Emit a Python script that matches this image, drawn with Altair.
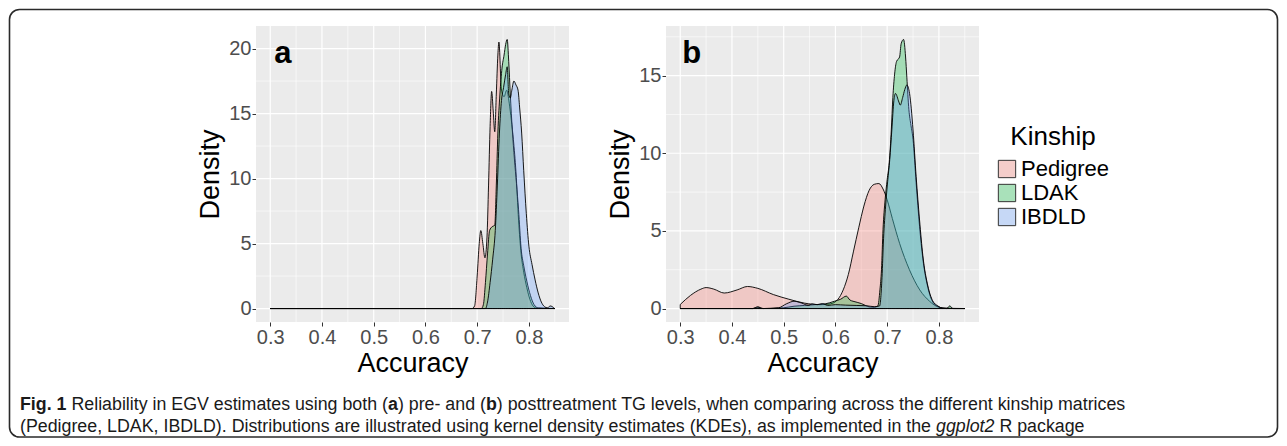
import altair as alt
import pandas as pd

# ---------------- data ----------------
KINSHIP = ["Pedigree", "LDAK", "IBDLD"]
HUES = ["#F8766D", "#00BA38", "#619CFF"]

# Panel a: pre-treatment
a_ped_x = [0.30, 0.690, 0.695, 0.700, 0.704, 0.707, 0.711, 0.715, 0.719, 0.722, 0.725, 0.728, 0.731,
           0.734, 0.737, 0.740, 0.742, 0.747, 0.752, 0.757, 0.762, 0.766, 0.770, 0.775, 0.780, 0.785,
           0.790, 0.796, 0.802, 0.808, 0.815, 0.85]
a_ped_y = [0, 0, 0.2, 2.5, 5.0, 6.0, 5.0, 3.9, 5.5, 9.5, 14.0, 16.7, 15.2,
           13.6, 16.5, 19.5, 20.5, 16.8, 16.3, 16.8, 15.8, 14.5, 13.0, 10.5, 6.8, 4.2,
           2.8, 1.6, 0.7, 0.2, 0.03, 0]

a_ldak_x = [0.30, 0.708, 0.712, 0.716, 0.720, 0.724, 0.729, 0.734, 0.737, 0.740, 0.744, 0.748, 0.752,
            0.755, 0.758, 0.761, 0.764, 0.768, 0.772, 0.776, 0.780, 0.785, 0.790, 0.796, 0.803, 0.810,
            0.818, 0.85]
a_ldak_y = [0, 0, 0.3, 2.0, 4.2, 6.0, 6.3, 6.4, 9.5, 13.5, 16.5, 18.5, 19.5,
            20.3, 20.7, 19.0, 16.5, 13.7, 11.5, 9.6, 7.6, 4.6, 3.3, 2.1, 1.0, 0.3,
            0.05, 0]

a_ibd_x = [0.30, 0.716, 0.720, 0.725, 0.730, 0.735, 0.739, 0.743, 0.747, 0.751, 0.755, 0.758, 0.761,
           0.764, 0.767, 0.771, 0.775, 0.779, 0.782, 0.786, 0.790, 0.795, 0.800, 0.806, 0.812, 0.818,
           0.824, 0.830, 0.836, 0.841, 0.845, 0.849, 0.85]
a_ibd_y = [0, 0, 0.5, 2.0, 3.8, 6.0, 9.5, 13.5, 16.0, 17.0, 18.0, 18.6, 16.5,
           16.2, 16.8, 17.5, 17.2, 16.8, 15.5, 13.5, 10.6, 7.3, 4.8, 3.4, 2.2, 1.2,
           0.5, 0.15, 0.05, 0.2, 0.15, 0.02, 0]

# Panel b: post-treatment
b_ped_x = [0.30, 0.32, 0.34, 0.35, 0.365, 0.385, 0.41, 0.43, 0.45, 0.48, 0.51, 0.54, 0.57, 0.59,
           0.605, 0.615, 0.625, 0.635, 0.645, 0.655, 0.665, 0.675, 0.684, 0.692, 0.700, 0.710,
           0.724, 0.743, 0.763, 0.782, 0.795, 0.81, 0.83, 0.85]
b_ped_y = [0.26, 0.85, 1.25, 1.35, 1.25, 1.0, 1.2, 1.42, 1.3, 0.9, 0.6, 0.35, 0.25, 0.3,
           0.6, 1.2, 2.2, 3.7, 5.2, 6.6, 7.6, 8.0, 8.05, 7.7, 7.0, 5.8,
           4.2, 2.5, 1.2, 0.47, 0.15, 0.03, 0.0, 0]

b_ldak_x = [0.30, 0.44, 0.45, 0.46, 0.50, 0.52, 0.54, 0.56, 0.58, 0.598, 0.61, 0.621, 0.628, 0.634,
            0.642, 0.65, 0.658, 0.666, 0.675, 0.682, 0.686, 0.689, 0.692, 0.696, 0.700, 0.704,
            0.708, 0.711, 0.7144, 0.718, 0.724, 0.727, 0.7317, 0.7356, 0.738, 0.742, 0.746, 0.75,
            0.756, 0.7626, 0.769, 0.7787, 0.788, 0.798, 0.808, 0.815, 0.821, 0.827, 0.85]
b_ldak_y = [0, 0, 0.1, 0, 0.05, 0.15, 0.2, 0.25, 0.3, 0.47, 0.6, 0.8, 0.55, 0.47,
            0.4, 0.32, 0.2, 0.1, 0.08, 0.17, 1.2, 2.5, 5.1, 7.0, 8.3, 9.4,
            11.5, 13.6, 15.1, 15.9, 16.2, 17.05, 17.33, 16.2, 14.9, 12.8, 11.8, 10.9,
            8.1, 5.3, 3.2, 1.35, 0.43, 0.13, 0.02, 0.0, 0.17, 0.0, 0]

b_ibd_x = [0.30, 0.44, 0.45, 0.46, 0.49, 0.505, 0.52, 0.535, 0.548, 0.555, 0.565, 0.575, 0.585,
           0.60, 0.62, 0.64, 0.66, 0.675, 0.6854, 0.69, 0.693, 0.697, 0.701, 0.705, 0.709, 0.713,
           0.716, 0.7227, 0.7253, 0.730, 0.734, 0.738, 0.7433, 0.75, 0.756, 0.7626, 0.769,
           0.7787, 0.788, 0.798, 0.8077, 0.85]
b_ibd_y = [0, 0, 0.1, 0, 0.05, 0.3, 0.47, 0.35, 0.2, 0.3, 0.25, 0.32, 0.2,
           0.25, 0.22, 0.2, 0.18, 0.12, 0.17, 2.0, 4.5, 6.6, 8.2, 9.6, 11.5, 13.4,
           13.85, 13.3, 13.1, 13.6, 14.1, 14.4, 13.85, 11.5, 8.5, 5.7, 3.4,
           1.45, 0.5, 0.17, 0.02, 0]

x_major = [0.3, 0.4, 0.5, 0.6, 0.7, 0.8]
x_minor = [0.35, 0.45, 0.55, 0.65, 0.75, 0.85]
a_y_major = [0, 5, 10, 15, 20]
a_y_minor = [2.5, 7.5, 12.5, 17.5]
b_y_major = [0, 5, 10, 15]
b_y_minor = [2.5, 7.5, 12.5, 17.5]

caption_line1 = [("Fig. 1", "bold", "normal"),
                 (" Reliability in EGV estimates using both (", "normal", "normal"),
                 ("a", "bold", "normal"),
                 (") pre- and (", "normal", "normal"),
                 ("b", "bold", "normal"),
                 (") posttreatment TG levels, when comparing across the different kinship matrices", "normal", "normal")]
caption_line2 = [("(Pedigree, LDAK, IBDLD). Distributions are illustrated using kernel density estimates (KDEs), as implemented in the ", "normal", "normal"),
                 ("ggplot2", "normal", "italic"),
                 (" R package", "normal", "normal")]

# ---------------- layout ----------------
FONT = "Liberation Sans"
W, H = 1271, 430
P_TOP, P_BOT = 18, 314
PA = (248, 561)
PB = (658, 971)
ALPHA = 0.3

x_pad = 0.05 * (0.85 - 0.30)
X_DOMAIN = [0.30 - x_pad, 0.85 + x_pad]


def blend(hex_color, alpha, under=242):
    r, g, b = (int(hex_color[i:i + 2], 16) for i in (1, 3, 5))
    mix = [round(alpha * c + (1 - alpha) * under) for c in (r, g, b)]
    return "#%02X%02X%02X" % tuple(mix)


KEY_COLORS = [blend(h, ALPHA) for h in HUES]


def to_long(series):
    rows = []
    for name, xs, ys in series:
        for xv, yv in zip(xs, ys):
            rows.append({"Kinship": name, "Accuracy": xv, "Density": yv})
    return pd.DataFrame(rows)


legend = alt.Legend(title="Kinship", orient="none", legendX=988, legendY=116,
                    titleFont=FONT, titleFontSize=26, titleFontWeight="normal", titleColor="black",
                    titleAnchor="middle", titlePadding=8, labelFont=FONT, labelFontSize=22,
                    labelColor="black", labelOffset=3, symbolType="square", symbolSize=300,
                    symbolStrokeWidth=1, symbolStrokeColor="#333333", rowPadding=2)


def panel(series, xr, y_major, y_minor, letter, letter_pos, with_key):
    df = to_long(series)
    ymax = df["Density"].max()
    ydom = [-0.05 * ymax, 1.05 * ymax]
    xs = alt.Scale(domain=X_DOMAIN, range=list(xr), nice=False, zero=False)
    ys = alt.Scale(domain=ydom, range=[P_BOT, P_TOP], nice=False, zero=False)
    xax = alt.Axis(orient="bottom", offset=-(H - P_BOT), values=x_major, format=".1f", grid=False,
                   domain=False, tickSize=4, tickWidth=1, tickColor="#333333", labelFont=FONT,
                   labelFontSize=20, labelColor="#4D4D4D", labelPadding=1, labelFlush=False,
                   labelOverlap=False, title="Accuracy", titleFont=FONT, titleFontSize=27,
                   titleFontWeight="normal", titleColor="black", titlePadding=3)
    yax = alt.Axis(orient="left", offset=-xr[0], values=y_major, format="d", grid=False,
                   domain=False, tickSize=4, tickWidth=1, tickColor="#333333", labelFont=FONT,
                   labelFontSize=20, labelColor="#4D4D4D", labelPadding=1, labelFlush=False,
                   labelOverlap=False, title="Density", titleFont=FONT, titleFontSize=27,
                   titleFontWeight="normal", titleColor="black", titlePadding=4)

    layers = []
    if with_key:
        # zero-size marks hidden under the panel background; they only feed the legend
        key_df = pd.DataFrame({"Kinship": KINSHIP, "kx": X_DOMAIN[0], "ky": ydom[0]})
        layers.append(
            alt.Chart(key_df).mark_rect(stroke="#333333", strokeWidth=1).encode(
                x=alt.X("kx:Q", scale=xs, axis=xax), x2="kx:Q",
                y=alt.Y("ky:Q", scale=ys, axis=yax), y2="ky:Q",
                color=alt.Color("Kinship:N", scale=alt.Scale(domain=KINSHIP, range=KEY_COLORS),
                                legend=legend, sort=KINSHIP)))

    bg_df = pd.DataFrame({"x0": [X_DOMAIN[0]], "x1": [X_DOMAIN[1]], "y0": [ydom[0]], "y1": [ydom[1]]})
    layers.append(alt.Chart(bg_df).mark_rect(fill="#EBEBEB").encode(
        x=alt.X("x0:Q", scale=xs, axis=xax), x2="x1:Q",
        y=alt.Y("y0:Q", scale=ys, axis=yax), y2="y1:Q"))

    def vrules(vals, w):
        d = pd.DataFrame({"v": vals, "y0": ydom[0], "y1": ydom[1]})
        return alt.Chart(d).mark_rule(color="white", strokeWidth=w).encode(
            x=alt.X("v:Q", scale=xs, axis=xax),
            y=alt.Y("y0:Q", scale=ys, axis=yax), y2="y1:Q")

    def hrules(vals, w):
        d = pd.DataFrame({"v": vals, "x0": X_DOMAIN[0], "x1": X_DOMAIN[1]})
        return alt.Chart(d).mark_rule(color="white", strokeWidth=w).encode(
            y=alt.Y("v:Q", scale=ys, axis=yax),
            x=alt.X("x0:Q", scale=xs, axis=xax), x2="x1:Q")

    layers += [vrules(x_minor, 0.6), hrules(y_minor, 0.6), vrules(x_major, 1.2), hrules(y_major, 1.2)]

    for name, hue in zip(KINSHIP, HUES):
        layers.append(
            alt.Chart(df).transform_filter(alt.datum.Kinship == name)
            .mark_area(fill=hue, stroke="black", strokeWidth=0.9, fillOpacity=ALPHA,
                       interpolate="monotone")
            .encode(x=alt.X("Accuracy:Q", scale=xs, axis=xax),
                    y=alt.Y("Density:Q", scale=ys, axis=yax, stack=None))
        )

    lab_df = pd.DataFrame({"t": [letter], "lx": [letter_pos[0]], "ly": [letter_pos[1]]})
    layers.append(alt.Chart(lab_df).mark_text(font=FONT, fontSize=31, fontWeight="bold", color="black",
                                              align="left", baseline="alphabetic").encode(
        x=alt.X("lx:Q", scale=xs, axis=xax), y=alt.Y("ly:Q", scale=ys, axis=yax), text="t:N"))

    return alt.layer(*layers)


panel_a = panel([("Pedigree", a_ped_x, a_ped_y), ("LDAK", a_ldak_x, a_ldak_y), ("IBDLD", a_ibd_x, a_ibd_y)],
                PA, a_y_major, a_y_minor, "a", (0.308, 18.9), False)
panel_b = panel([("Pedigree", b_ped_x, b_ped_y), ("LDAK", b_ldak_x, b_ldak_y), ("IBDLD", b_ibd_x, b_ibd_y)],
                PB, b_y_major, b_y_minor, "b", (0.304, 15.8), True)

# ---------------- frame and caption ----------------
one = pd.DataFrame({"k": [0]})
frame = alt.Chart(one).mark_rect(fill="white", fillOpacity=0, stroke="#2a2a2a", strokeWidth=1.6,
                                 cornerRadius=10).encode(
    x=alt.value(1.5), x2=alt.value(W - 1.5), y=alt.value(1.5), y2=alt.value(H - 1))

AR = {' ': 278, '(': 333, ')': 333, '-': 333, '.': 278, ',': 278, '1': 556, '2': 556,
      'A': 667, 'B': 667, 'C': 722, 'D': 722, 'E': 667, 'F': 611, 'G': 778, 'H': 722, 'I': 278,
      'K': 667, 'L': 556, 'P': 667, 'R': 722, 'T': 611, 'V': 667,
      'a': 556, 'b': 556, 'c': 500, 'd': 556, 'e': 556, 'f': 278, 'g': 556, 'h': 556, 'i': 222,
      'j': 222, 'k': 500, 'l': 222, 'm': 833, 'n': 556, 'o': 556, 'p': 556, 'q': 556, 'r': 333,
      's': 500, 't': 278, 'u': 556, 'v': 500, 'w': 722, 'x': 500, 'y': 500, 'z': 500}
AB = dict(AR)
AB.update({'F': 611, 'i': 278, 'g': 611, 'a': 556, 'b': 611, '1': 556, '.': 278, ' ': 278})


def em_width(s, weight):
    table = AB if weight == "bold" else AR
    return sum(table.get(c, 556) for c in s) / 1000.0


CAP_X0 = 12
CAP_W1 = 1106
cap_size = CAP_W1 / sum(em_width(s, w) for s, w, _ in caption_line1)

caption_layers = []
for segs, base_y in ((caption_line1, 402), (caption_line2, 424)):
    xpos = CAP_X0
    for s, w, st in segs:
        lead = len(s) - len(s.lstrip(" "))
        txt = s.strip(" ")
        x_here = xpos + lead * AR[' '] / 1000.0 * cap_size
        caption_layers.append(
            alt.Chart(one).mark_text(text=txt, font=FONT, fontSize=cap_size, fontWeight=w,
                                     fontStyle=st, color="#1a1a1a", align="left",
                                     baseline="alphabetic").encode(
                x=alt.value(x_here), y=alt.value(base_y)))
        xpos += em_width(s, w) * cap_size

chart = alt.layer(frame, panel_a, panel_b, *caption_layers).resolve_scale(
    x="independent", y="independent"
).properties(
    width=W, height=H, autosize=alt.AutoSizeParams(type="none"), padding=0, background="white"
).configure_view(stroke=None)

chart.save("out.html", embed_options={"renderer": "svg", "actions": False})
